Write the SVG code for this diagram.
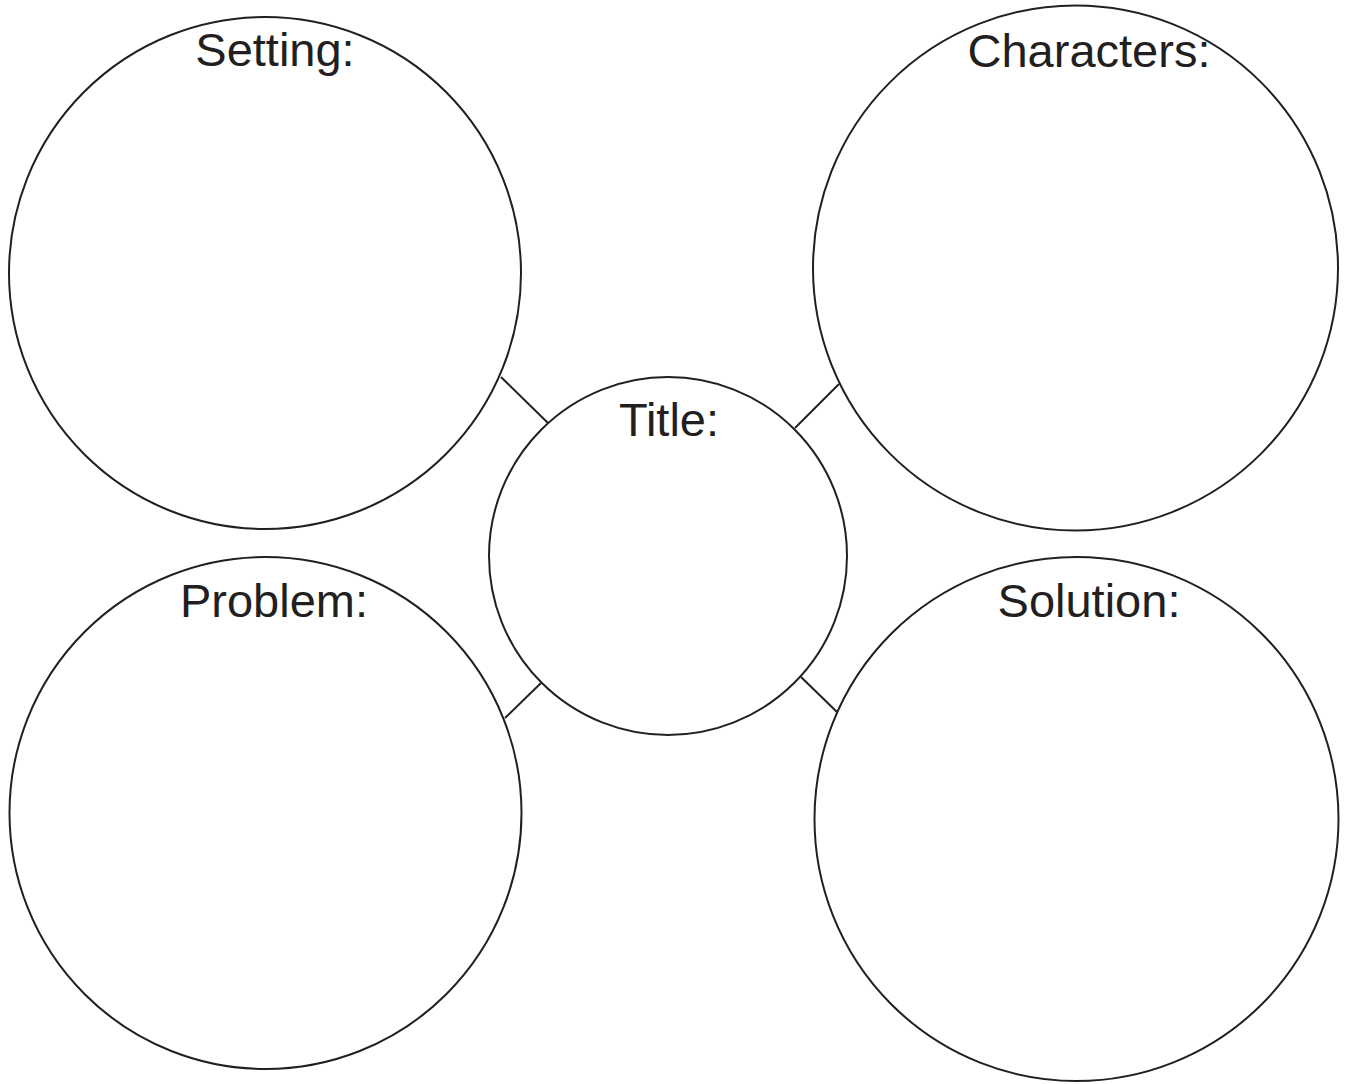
<svg xmlns="http://www.w3.org/2000/svg" width="1345" height="1084" viewBox="0 0 1345 1084">
<style>
.c{fill:none;stroke:#231f20;stroke-width:2}
.l{stroke:#231f20;stroke-width:2}
text{font-family:"Liberation Sans",Arial,sans-serif;font-size:47px;fill:#231f20;text-anchor:middle}
</style>
<rect width="1345" height="1084" fill="#fff"/>
<g id="connectors">
<line class="l" x1="501" y1="377" x2="548" y2="423"/>
<line class="l" x1="795" y1="428" x2="839" y2="384"/>
<line class="l" x1="505" y1="718" x2="541" y2="683"/>
<line class="l" x1="801" y1="677" x2="837" y2="712"/>
</g>
<g id="setting"><circle class="c" cx="265" cy="273" r="256"/><text x="275" y="66">Setting:</text></g>
<g id="characters"><circle class="c" cx="1075.5" cy="268" r="262.5"/><text x="1089" y="67">Characters:</text></g>
<g id="title"><circle class="c" cx="668" cy="556" r="179"/><text x="669" y="436">Title:</text></g>
<g id="problem"><circle class="c" cx="265.5" cy="813" r="256"/><text x="274" y="617">Problem:</text></g>
<g id="solution"><circle class="c" cx="1076.5" cy="819" r="262"/><text x="1089" y="617">Solution:</text></g>
</svg>
